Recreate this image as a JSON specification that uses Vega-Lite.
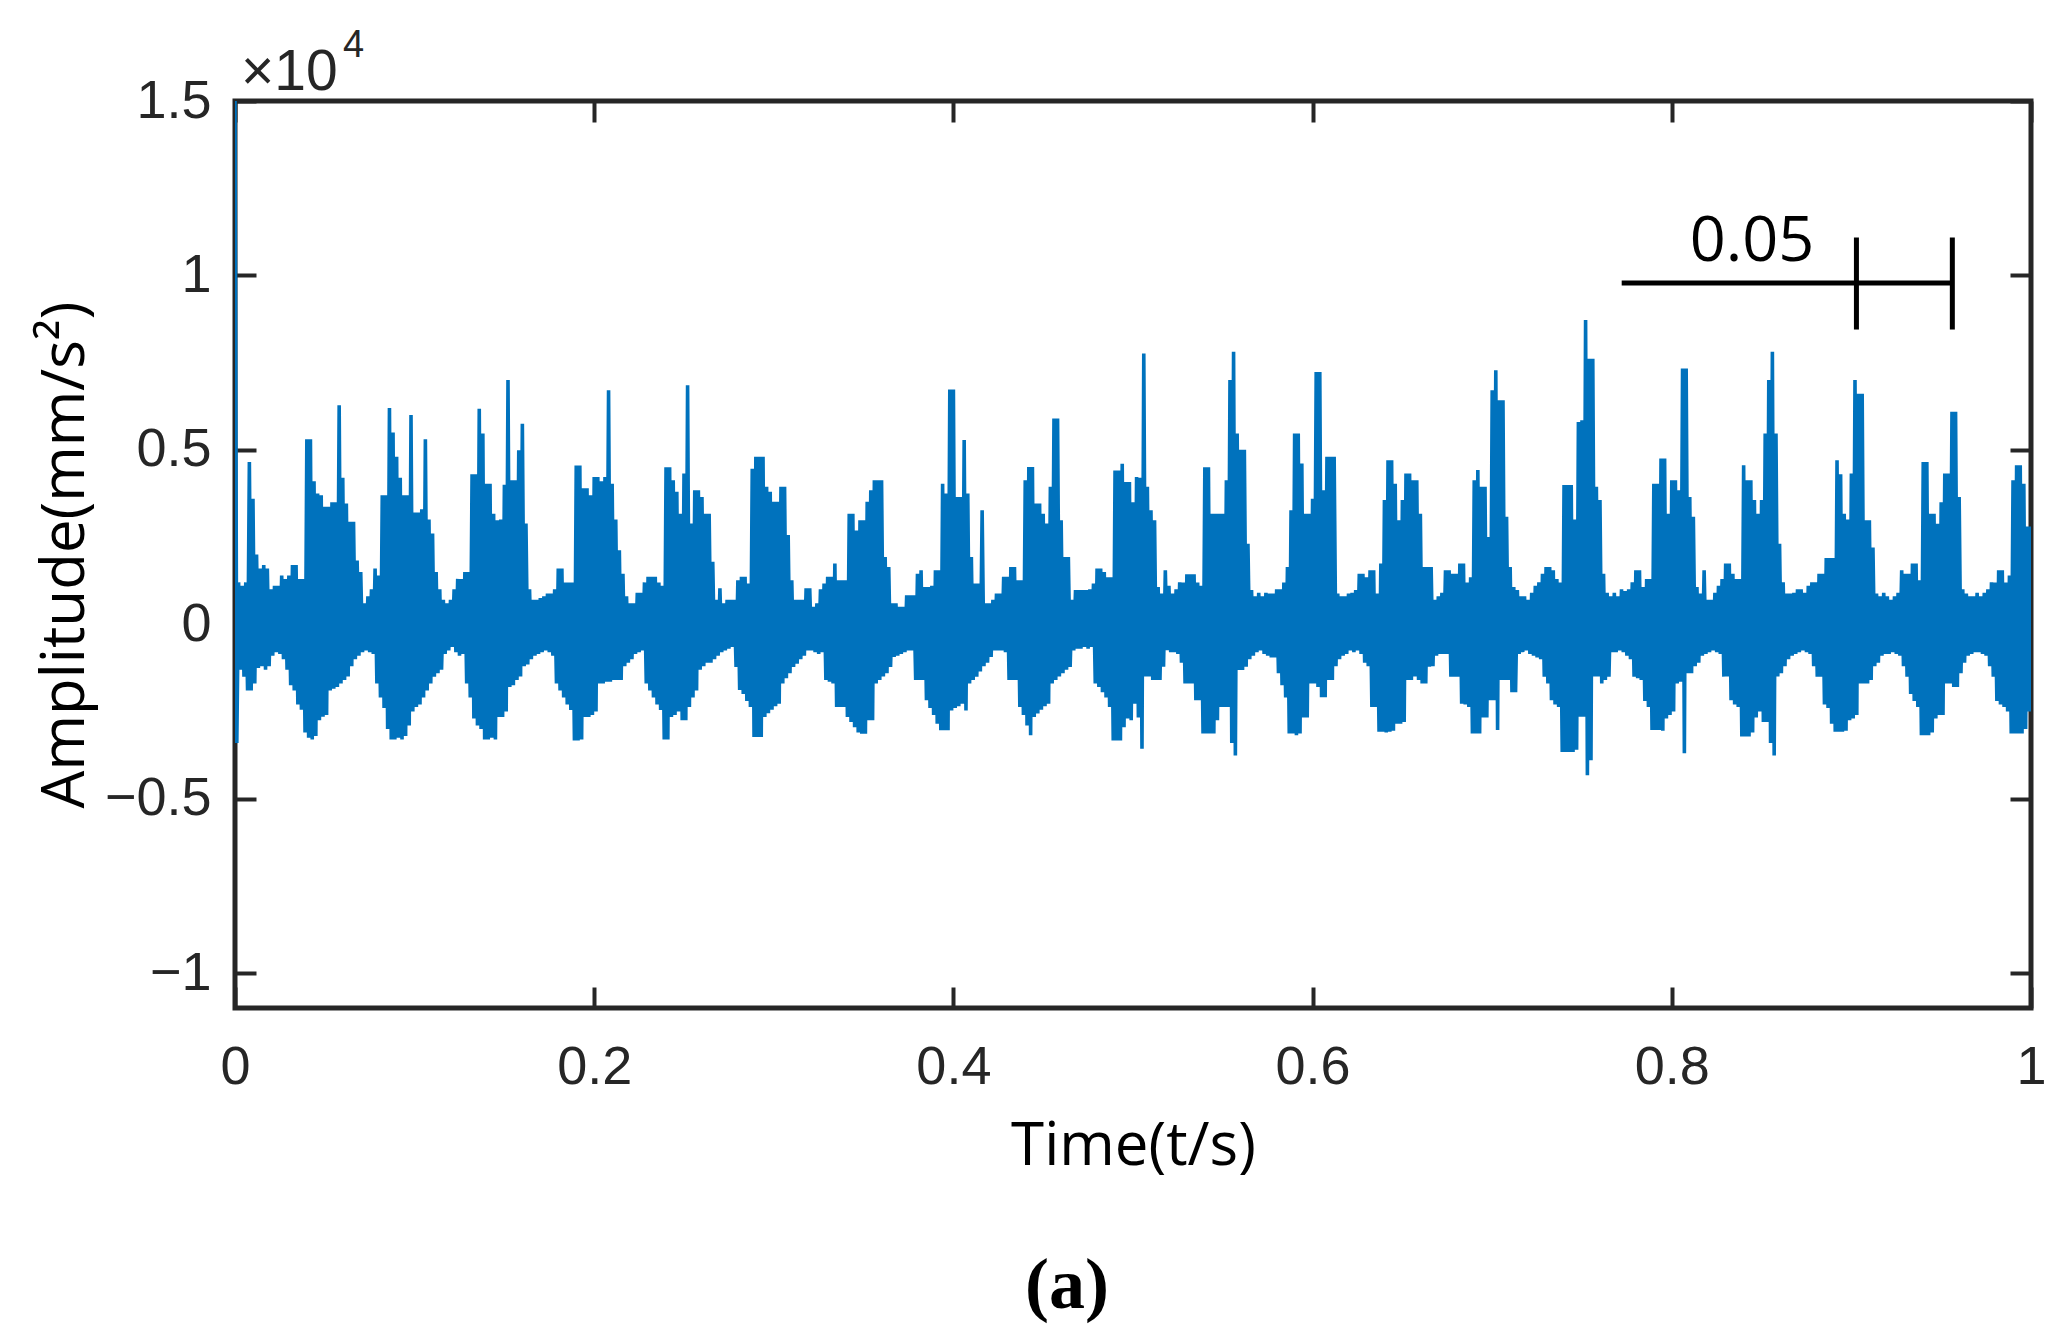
{
  "$schema": "https://vega.github.io/schema/vega-lite/v6.json",
  "description": "Vibration acceleration signal over one second, with a 0.05 s scale bar.",
  "width": 1796,
  "height": 907,
  "autosize": "none",
  "padding": {"left": 235, "top": 101, "right": 39, "bottom": 327},
  "background": "white",
  "config": {"view": {"stroke": "#262626", "strokeWidth": 5}},
  "title": {"text": "(a)", "orient": "bottom", "anchor": "middle", "font": "Liberation Serif", "fontSize": 72, "fontWeight": "bold", "color": "#000000", "offset": 75, "dx": -66},
  "layer": [
    {
      "data": {"values": [
{"t":0,"a":15000},{"t":0.001,"a":-3400},{"t":0.002,"a":1200},{"t":0.003,"a":-1300},{"t":0.004,"a":1100},{"t":0.005,"a":-1500},{"t":0.006,"a":1200},{"t":0.007,"a":-1900},{"t":0.008,"a":4650},{"t":0.009,"a":-1900},
{"t":0.01,"a":3600},{"t":0.011,"a":-1700},{"t":0.012,"a":2000},{"t":0.013,"a":-1250},{"t":0.014,"a":1600},{"t":0.015,"a":-1200},{"t":0.016,"a":1700},{"t":0.017,"a":-1300},{"t":0.018,"a":1600},{"t":0.019,"a":-1200},
{"t":0.02,"a":1000},{"t":0.021,"a":-900},{"t":0.022,"a":1100},{"t":0.023,"a":-800},{"t":0.024,"a":1100},{"t":0.025,"a":-850},{"t":0.026,"a":1400},{"t":0.027,"a":-1000},{"t":0.028,"a":1300},{"t":0.029,"a":-1300},
{"t":0.03,"a":1400},{"t":0.031,"a":-1750},{"t":0.032,"a":1700},{"t":0.033,"a":-1900},{"t":0.034,"a":1700},{"t":0.035,"a":-2300},{"t":0.036,"a":1300},{"t":0.037,"a":-2450},{"t":0.038,"a":1300},{"t":0.039,"a":-3100},
{"t":0.04,"a":5300},{"t":0.041,"a":-3250},{"t":0.042,"a":5300},{"t":0.043,"a":-3300},{"t":0.044,"a":4100},{"t":0.045,"a":-3200},{"t":0.046,"a":3750},{"t":0.047,"a":-2750},{"t":0.048,"a":3700},{"t":0.049,"a":-2650},
{"t":0.05,"a":3370},{"t":0.051,"a":-2600},{"t":0.052,"a":3370},{"t":0.053,"a":-1900},{"t":0.054,"a":3500},{"t":0.055,"a":-1850},{"t":0.056,"a":3500},{"t":0.057,"a":-1800},{"t":0.058,"a":6280},{"t":0.059,"a":-1700},
{"t":0.06,"a":4200},{"t":0.061,"a":-1600},{"t":0.062,"a":3460},{"t":0.063,"a":-1500},{"t":0.064,"a":2940},{"t":0.065,"a":-1200},{"t":0.066,"a":2940},{"t":0.067,"a":-1000},{"t":0.068,"a":1830},{"t":0.069,"a":-900},
{"t":0.07,"a":1500},{"t":0.071,"a":-800},{"t":0.072,"a":600},{"t":0.073,"a":-750},{"t":0.074,"a":800},{"t":0.075,"a":-800},{"t":0.076,"a":1000},{"t":0.077,"a":-850},{"t":0.078,"a":1600},{"t":0.079,"a":-1700},
{"t":0.08,"a":1400},{"t":0.081,"a":-2100},{"t":0.082,"a":3700},{"t":0.083,"a":-2400},{"t":0.084,"a":3700},{"t":0.085,"a":-3000},{"t":0.086,"a":6200},{"t":0.087,"a":-3300},{"t":0.088,"a":5500},{"t":0.089,"a":-3300},
{"t":0.09,"a":4800},{"t":0.091,"a":-3250},{"t":0.092,"a":4200},{"t":0.093,"a":-3300},{"t":0.094,"a":3700},{"t":0.095,"a":-3200},{"t":0.096,"a":3700},{"t":0.097,"a":-2900},{"t":0.098,"a":6000},{"t":0.099,"a":-2500},
{"t":0.1,"a":3200},{"t":0.101,"a":-2370},{"t":0.102,"a":3200},{"t":0.103,"a":-2300},{"t":0.104,"a":3300},{"t":0.105,"a":-2100},{"t":0.106,"a":5300},{"t":0.107,"a":-1900},{"t":0.108,"a":3000},{"t":0.109,"a":-1700},
{"t":0.11,"a":2600},{"t":0.111,"a":-1500},{"t":0.112,"a":1500},{"t":0.113,"a":-1400},{"t":0.114,"a":1000},{"t":0.115,"a":-1300},{"t":0.116,"a":700},{"t":0.117,"a":-850},{"t":0.118,"a":600},{"t":0.119,"a":-750},
{"t":0.12,"a":700},{"t":0.121,"a":-650},{"t":0.122,"a":1000},{"t":0.123,"a":-800},{"t":0.124,"a":1300},{"t":0.125,"a":-900},{"t":0.126,"a":1300},{"t":0.127,"a":-850},{"t":0.128,"a":1500},{"t":0.129,"a":-1700},
{"t":0.13,"a":1500},{"t":0.131,"a":-2100},{"t":0.132,"a":4300},{"t":0.133,"a":-2700},{"t":0.134,"a":4300},{"t":0.135,"a":-2900},{"t":0.136,"a":6180},{"t":0.137,"a":-3000},{"t":0.138,"a":5470},{"t":0.139,"a":-3300},
{"t":0.14,"a":4030},{"t":0.141,"a":-3300},{"t":0.142,"a":4030},{"t":0.143,"a":-3250},{"t":0.144,"a":3170},{"t":0.145,"a":-3300},{"t":0.146,"a":2980},{"t":0.147,"a":-2660},{"t":0.148,"a":3000},{"t":0.149,"a":-2660},
{"t":0.15,"a":4000},{"t":0.151,"a":-2500},{"t":0.152,"a":7000},{"t":0.153,"a":-1800},{"t":0.154,"a":4130},{"t":0.155,"a":-1750},{"t":0.156,"a":4130},{"t":0.157,"a":-1600},{"t":0.158,"a":4990},{"t":0.159,"a":-1500},
{"t":0.16,"a":5750},{"t":0.161,"a":-1200},{"t":0.162,"a":2890},{"t":0.163,"a":-1150},{"t":0.164,"a":1000},{"t":0.165,"a":-1000},{"t":0.166,"a":700},{"t":0.167,"a":-900},{"t":0.168,"a":700},{"t":0.169,"a":-850},
{"t":0.17,"a":750},{"t":0.171,"a":-800},{"t":0.172,"a":800},{"t":0.173,"a":-750},{"t":0.174,"a":880},{"t":0.175,"a":-800},{"t":0.176,"a":880},{"t":0.177,"a":-900},{"t":0.178,"a":1000},{"t":0.179,"a":-1700},
{"t":0.18,"a":1600},{"t":0.181,"a":-1900},{"t":0.182,"a":1600},{"t":0.183,"a":-2100},{"t":0.184,"a":1200},{"t":0.185,"a":-2300},{"t":0.186,"a":1200},{"t":0.187,"a":-2460},{"t":0.188,"a":1200},{"t":0.189,"a":-3330},
{"t":0.19,"a":4550},{"t":0.191,"a":-3330},{"t":0.192,"a":4550},{"t":0.193,"a":-3300},{"t":0.194,"a":3900},{"t":0.195,"a":-2660},{"t":0.196,"a":3900},{"t":0.197,"a":-2660},{"t":0.198,"a":3700},{"t":0.199,"a":-2600},
{"t":0.2,"a":4220},{"t":0.201,"a":-2500},{"t":0.202,"a":4220},{"t":0.203,"a":-1700},{"t":0.204,"a":4100},{"t":0.205,"a":-1700},{"t":0.206,"a":4220},{"t":0.207,"a":-1650},{"t":0.208,"a":6710},{"t":0.209,"a":-1650},
{"t":0.21,"a":4030},{"t":0.211,"a":-1600},{"t":0.212,"a":3000},{"t":0.213,"a":-1600},{"t":0.214,"a":2120},{"t":0.215,"a":-1600},{"t":0.216,"a":1450},{"t":0.217,"a":-1200},{"t":0.218,"a":800},{"t":0.219,"a":-1100},
{"t":0.22,"a":600},{"t":0.221,"a":-1000},{"t":0.222,"a":600},{"t":0.223,"a":-850},{"t":0.224,"a":900},{"t":0.225,"a":-800},{"t":0.226,"a":900},{"t":0.227,"a":-750},{"t":0.228,"a":1200},{"t":0.229,"a":-1700},
{"t":0.23,"a":1360},{"t":0.231,"a":-1900},{"t":0.232,"a":1360},{"t":0.233,"a":-2100},{"t":0.234,"a":1360},{"t":0.235,"a":-2300},{"t":0.236,"a":1200},{"t":0.237,"a":-2460},{"t":0.238,"a":1100},{"t":0.239,"a":-3300},
{"t":0.24,"a":4500},{"t":0.241,"a":-3300},{"t":0.242,"a":4500},{"t":0.243,"a":-2660},{"t":0.244,"a":4130},{"t":0.245,"a":-2600},{"t":0.246,"a":3800},{"t":0.247,"a":-2500},{"t":0.248,"a":3170},{"t":0.249,"a":-2750},
{"t":0.25,"a":4320},{"t":0.251,"a":-2750},{"t":0.252,"a":6850},{"t":0.253,"a":-2370},{"t":0.254,"a":2890},{"t":0.255,"a":-2100},{"t":0.256,"a":3840},{"t":0.257,"a":-1900},{"t":0.258,"a":3840},{"t":0.259,"a":-1300},
{"t":0.26,"a":3650},{"t":0.261,"a":-1200},{"t":0.262,"a":3170},{"t":0.263,"a":-1100},{"t":0.264,"a":3170},{"t":0.265,"a":-1100},{"t":0.266,"a":1790},{"t":0.267,"a":-1000},{"t":0.268,"a":700},{"t":0.269,"a":-900},
{"t":0.27,"a":1030},{"t":0.271,"a":-800},{"t":0.272,"a":600},{"t":0.273,"a":-750},{"t":0.274,"a":700},{"t":0.275,"a":-700},{"t":0.276,"a":700},{"t":0.277,"a":-650},{"t":0.278,"a":700},{"t":0.279,"a":-1220},
{"t":0.28,"a":1260},{"t":0.281,"a":-1880},{"t":0.282,"a":1360},{"t":0.283,"a":-2000},{"t":0.284,"a":1360},{"t":0.285,"a":-2200},{"t":0.286,"a":1170},{"t":0.287,"a":-2370},{"t":0.288,"a":4460},{"t":0.289,"a":-3230},
{"t":0.29,"a":4800},{"t":0.291,"a":-3230},{"t":0.292,"a":4800},{"t":0.293,"a":-3230},{"t":0.294,"a":4800},{"t":0.295,"a":-2660},{"t":0.296,"a":3940},{"t":0.297,"a":-2550},{"t":0.298,"a":3800},{"t":0.299,"a":-2450},
{"t":0.3,"a":3510},{"t":0.301,"a":-2350},{"t":0.302,"a":3510},{"t":0.303,"a":-2280},{"t":0.304,"a":3940},{"t":0.305,"a":-1700},{"t":0.306,"a":3940},{"t":0.307,"a":-1550},{"t":0.308,"a":2560},{"t":0.309,"a":-1400},
{"t":0.31,"a":1260},{"t":0.311,"a":-1220},{"t":0.312,"a":700},{"t":0.313,"a":-1130},{"t":0.314,"a":700},{"t":0.315,"a":-1000},{"t":0.316,"a":700},{"t":0.317,"a":-900},{"t":0.318,"a":1030},{"t":0.319,"a":-750},
{"t":0.32,"a":1030},{"t":0.321,"a":-750},{"t":0.322,"a":500},{"t":0.323,"a":-800},{"t":0.324,"a":600},{"t":0.325,"a":-850},{"t":0.326,"a":1000},{"t":0.327,"a":-800},{"t":0.328,"a":1170},{"t":0.329,"a":-1600},
{"t":0.33,"a":1360},{"t":0.331,"a":-1650},{"t":0.332,"a":1360},{"t":0.333,"a":-1700},{"t":0.334,"a":1740},{"t":0.335,"a":-2370},{"t":0.336,"a":1260},{"t":0.337,"a":-2370},{"t":0.338,"a":1260},{"t":0.339,"a":-2370},
{"t":0.34,"a":1260},{"t":0.341,"a":-2660},{"t":0.342,"a":3170},{"t":0.343,"a":-2800},{"t":0.344,"a":3170},{"t":0.345,"a":-2950},{"t":0.346,"a":2690},{"t":0.347,"a":-3100},{"t":0.348,"a":2980},{"t":0.349,"a":-3140},
{"t":0.35,"a":2980},{"t":0.351,"a":-3140},{"t":0.352,"a":3510},{"t":0.353,"a":-2750},{"t":0.354,"a":3840},{"t":0.355,"a":-2750},{"t":0.356,"a":4130},{"t":0.357,"a":-1700},{"t":0.358,"a":4130},{"t":0.359,"a":-1600},
{"t":0.36,"a":4130},{"t":0.361,"a":-1500},{"t":0.362,"a":1930},{"t":0.363,"a":-1400},{"t":0.364,"a":1640},{"t":0.365,"a":-1220},{"t":0.366,"a":600},{"t":0.367,"a":-940},{"t":0.368,"a":600},{"t":0.369,"a":-900},
{"t":0.37,"a":500},{"t":0.371,"a":-850},{"t":0.372,"a":500},{"t":0.373,"a":-800},{"t":0.374,"a":830},{"t":0.375,"a":-750},{"t":0.376,"a":830},{"t":0.377,"a":-750},{"t":0.378,"a":830},{"t":0.379,"a":-1600},
{"t":0.38,"a":1450},{"t":0.381,"a":-1600},{"t":0.382,"a":1550},{"t":0.383,"a":-1600},{"t":0.384,"a":1070},{"t":0.385,"a":-2180},{"t":0.386,"a":1070},{"t":0.387,"a":-2400},{"t":0.388,"a":1100},{"t":0.389,"a":-2600},
{"t":0.39,"a":1550},{"t":0.391,"a":-2850},{"t":0.392,"a":1550},{"t":0.393,"a":-3040},{"t":0.394,"a":4030},{"t":0.395,"a":-3040},{"t":0.396,"a":3750},{"t":0.397,"a":-3040},{"t":0.398,"a":6730},{"t":0.399,"a":-2470},
{"t":0.4,"a":6730},{"t":0.401,"a":-2400},{"t":0.402,"a":3650},{"t":0.403,"a":-2350},{"t":0.404,"a":3650},{"t":0.405,"a":-2280},{"t":0.406,"a":5280},{"t":0.407,"a":-2470},{"t":0.408,"a":3750},{"t":0.409,"a":-1700},
{"t":0.41,"a":1930},{"t":0.411,"a":-1600},{"t":0.412,"a":1170},{"t":0.413,"a":-1500},{"t":0.414,"a":1170},{"t":0.415,"a":-1350},{"t":0.416,"a":3270},{"t":0.417,"a":-1200},{"t":0.418,"a":600},{"t":0.419,"a":-1100},
{"t":0.42,"a":600},{"t":0.421,"a":-940},{"t":0.422,"a":700},{"t":0.423,"a":-750},{"t":0.424,"a":880},{"t":0.425,"a":-750},{"t":0.426,"a":880},{"t":0.427,"a":-750},{"t":0.428,"a":1360},{"t":0.429,"a":-800},
{"t":0.43,"a":1360},{"t":0.431,"a":-1600},{"t":0.432,"a":1640},{"t":0.433,"a":-1600},{"t":0.434,"a":1640},{"t":0.435,"a":-1600},{"t":0.436,"a":1260},{"t":0.437,"a":-2370},{"t":0.438,"a":1260},{"t":0.439,"a":-2600},
{"t":0.44,"a":4130},{"t":0.441,"a":-2900},{"t":0.442,"a":4510},{"t":0.443,"a":-3180},{"t":0.444,"a":4510},{"t":0.445,"a":-2660},{"t":0.446,"a":3460},{"t":0.447,"a":-2560},{"t":0.448,"a":3460},{"t":0.449,"a":-2450},
{"t":0.45,"a":3170},{"t":0.451,"a":-2350},{"t":0.452,"a":2890},{"t":0.453,"a":-2280},{"t":0.454,"a":3940},{"t":0.455,"a":-1700},{"t":0.456,"a":5900},{"t":0.457,"a":-1600},{"t":0.458,"a":5900},{"t":0.459,"a":-1500},
{"t":0.46,"a":2980},{"t":0.461,"a":-1400},{"t":0.462,"a":1930},{"t":0.463,"a":-1300},{"t":0.464,"a":1930},{"t":0.465,"a":-1220},{"t":0.466,"a":700},{"t":0.467,"a":-750},{"t":0.468,"a":980},{"t":0.469,"a":-700},
{"t":0.47,"a":980},{"t":0.471,"a":-700},{"t":0.472,"a":980},{"t":0.473,"a":-650},{"t":0.474,"a":980},{"t":0.475,"a":-700},{"t":0.476,"a":1000},{"t":0.477,"a":-650},{"t":0.478,"a":1170},{"t":0.479,"a":-1700},
{"t":0.48,"a":1600},{"t":0.481,"a":-1800},{"t":0.482,"a":1600},{"t":0.483,"a":-1950},{"t":0.484,"a":1500},{"t":0.485,"a":-2100},{"t":0.486,"a":1350},{"t":0.487,"a":-2370},{"t":0.488,"a":1350},{"t":0.489,"a":-3330},
{"t":0.49,"a":4410},{"t":0.491,"a":-3330},{"t":0.492,"a":4410},{"t":0.493,"a":-3330},{"t":0.494,"a":4600},{"t":0.495,"a":-2950},{"t":0.496,"a":4080},{"t":0.497,"a":-2700},{"t":0.498,"a":4080},{"t":0.499,"a":-2750},
{"t":0.5,"a":3500},{"t":0.501,"a":-2280},{"t":0.502,"a":4220},{"t":0.503,"a":-2670},{"t":0.504,"a":4200},{"t":0.505,"a":-3570},{"t":0.506,"a":7760},{"t":0.507,"a":-1500},{"t":0.508,"a":3940},{"t":0.509,"a":-1500},
{"t":0.51,"a":3270},{"t":0.511,"a":-1600},{"t":0.512,"a":2980},{"t":0.513,"a":-1600},{"t":0.514,"a":1070},{"t":0.515,"a":-1600},{"t":0.516,"a":880},{"t":0.517,"a":-1220},{"t":0.518,"a":1550},{"t":0.519,"a":-740},
{"t":0.52,"a":1100},{"t":0.521,"a":-800},{"t":0.522,"a":880},{"t":0.523,"a":-800},{"t":0.524,"a":1000},{"t":0.525,"a":-850},{"t":0.526,"a":1200},{"t":0.527,"a":-1100},{"t":0.528,"a":1200},{"t":0.529,"a":-1700},
{"t":0.53,"a":1430},{"t":0.531,"a":-1700},{"t":0.532,"a":1430},{"t":0.533,"a":-1700},{"t":0.534,"a":1430},{"t":0.535,"a":-2180},{"t":0.536,"a":1200},{"t":0.537,"a":-2180},{"t":0.538,"a":1100},{"t":0.539,"a":-3130},
{"t":0.54,"a":4500},{"t":0.541,"a":-3130},{"t":0.542,"a":4500},{"t":0.543,"a":-3130},{"t":0.544,"a":3170},{"t":0.545,"a":-3130},{"t":0.546,"a":3170},{"t":0.547,"a":-2750},{"t":0.548,"a":3170},{"t":0.549,"a":-2370},
{"t":0.55,"a":3170},{"t":0.551,"a":-2370},{"t":0.552,"a":4130},{"t":0.553,"a":-2370},{"t":0.554,"a":7000},{"t":0.555,"a":-3400},{"t":0.556,"a":7810},{"t":0.557,"a":-3760},{"t":0.558,"a":5470},{"t":0.559,"a":-1310},
{"t":0.56,"a":5000},{"t":0.561,"a":-1310},{"t":0.562,"a":5000},{"t":0.563,"a":-1220},{"t":0.564,"a":2310},{"t":0.565,"a":-1000},{"t":0.566,"a":980},{"t":0.567,"a":-900},{"t":0.568,"a":800},{"t":0.569,"a":-800},
{"t":0.57,"a":900},{"t":0.571,"a":-750},{"t":0.572,"a":800},{"t":0.573,"a":-850},{"t":0.574,"a":900},{"t":0.575,"a":-900},{"t":0.576,"a":880},{"t":0.577,"a":-950},{"t":0.578,"a":880},{"t":0.579,"a":-950},
{"t":0.58,"a":1000},{"t":0.581,"a":-1400},{"t":0.582,"a":1000},{"t":0.583,"a":-1750},{"t":0.584,"a":1200},{"t":0.585,"a":-2100},{"t":0.586,"a":1640},{"t":0.587,"a":-3130},{"t":0.588,"a":3270},{"t":0.589,"a":-3130},
{"t":0.59,"a":5470},{"t":0.591,"a":-3180},{"t":0.592,"a":5470},{"t":0.593,"a":-3130},{"t":0.594,"a":4610},{"t":0.595,"a":-2670},{"t":0.596,"a":3170},{"t":0.597,"a":-2670},{"t":0.598,"a":3170},{"t":0.599,"a":-1700},
{"t":0.6,"a":3600},{"t":0.601,"a":-1700},{"t":0.602,"a":7230},{"t":0.603,"a":-1800},{"t":0.604,"a":7230},{"t":0.605,"a":-2090},{"t":0.606,"a":3840},{"t":0.607,"a":-2090},{"t":0.608,"a":4800},{"t":0.609,"a":-1600},
{"t":0.61,"a":4800},{"t":0.611,"a":-1600},{"t":0.612,"a":4800},{"t":0.613,"a":-1200},{"t":0.614,"a":880},{"t":0.615,"a":-1000},{"t":0.616,"a":800},{"t":0.617,"a":-900},{"t":0.618,"a":800},{"t":0.619,"a":-850},
{"t":0.62,"a":880},{"t":0.621,"a":-750},{"t":0.622,"a":900},{"t":0.623,"a":-800},{"t":0.624,"a":980},{"t":0.625,"a":-750},{"t":0.626,"a":1450},{"t":0.627,"a":-850},{"t":0.628,"a":1450},{"t":0.629,"a":-1100},
{"t":0.63,"a":1350},{"t":0.631,"a":-1200},{"t":0.632,"a":1550},{"t":0.633,"a":-2370},{"t":0.634,"a":1550},{"t":0.635,"a":-2370},{"t":0.636,"a":880},{"t":0.637,"a":-3080},{"t":0.638,"a":1740},{"t":0.639,"a":-3080},
{"t":0.64,"a":3560},{"t":0.641,"a":-3100},{"t":0.642,"a":4700},{"t":0.643,"a":-3080},{"t":0.644,"a":4700},{"t":0.645,"a":-3050},{"t":0.646,"a":4030},{"t":0.647,"a":-2850},{"t":0.648,"a":2980},{"t":0.649,"a":-2850},
{"t":0.65,"a":3560},{"t":0.651,"a":-2800},{"t":0.652,"a":4320},{"t":0.653,"a":-1600},{"t":0.654,"a":4320},{"t":0.655,"a":-1600},{"t":0.656,"a":4130},{"t":0.657,"a":-1500},{"t":0.658,"a":4130},{"t":0.659,"a":-1600},
{"t":0.66,"a":3170},{"t":0.661,"a":-1700},{"t":0.662,"a":1640},{"t":0.663,"a":-1700},{"t":0.664,"a":1640},{"t":0.665,"a":-1220},{"t":0.666,"a":1640},{"t":0.667,"a":-1200},{"t":0.668,"a":700},{"t":0.669,"a":-900},
{"t":0.67,"a":800},{"t":0.671,"a":-850},{"t":0.672,"a":900},{"t":0.673,"a":-850},{"t":0.674,"a":1550},{"t":0.675,"a":-850},{"t":0.676,"a":1550},{"t":0.677,"a":-1500},{"t":0.678,"a":1450},{"t":0.679,"a":-1500},
{"t":0.68,"a":1450},{"t":0.681,"a":-1500},{"t":0.682,"a":1740},{"t":0.683,"a":-2280},{"t":0.684,"a":1740},{"t":0.685,"a":-2300},{"t":0.686,"a":1200},{"t":0.687,"a":-2370},{"t":0.688,"a":1350},{"t":0.689,"a":-3130},
{"t":0.69,"a":4130},{"t":0.691,"a":-3130},{"t":0.692,"a":4420},{"t":0.693,"a":-3130},{"t":0.694,"a":3940},{"t":0.695,"a":-2670},{"t":0.696,"a":3940},{"t":0.697,"a":-2670},{"t":0.698,"a":2500},{"t":0.699,"a":-2180},
{"t":0.7,"a":6710},{"t":0.701,"a":-2180},{"t":0.702,"a":7280},{"t":0.703,"a":-3030},{"t":0.704,"a":6420},{"t":0.705,"a":-1600},{"t":0.706,"a":6420},{"t":0.707,"a":-1600},{"t":0.708,"a":3080},{"t":0.709,"a":-1600},
{"t":0.71,"a":1640},{"t":0.711,"a":-1950},{"t":0.712,"a":1070},{"t":0.713,"a":-1950},{"t":0.714,"a":980},{"t":0.715,"a":-850},{"t":0.716,"a":800},{"t":0.717,"a":-800},{"t":0.718,"a":800},{"t":0.719,"a":-750},
{"t":0.72,"a":700},{"t":0.721,"a":-850},{"t":0.722,"a":900},{"t":0.723,"a":-900},{"t":0.724,"a":1100},{"t":0.725,"a":-950},{"t":0.726,"a":1200},{"t":0.727,"a":-1000},{"t":0.728,"a":1450},{"t":0.729,"a":-1500},
{"t":0.73,"a":1640},{"t":0.731,"a":-1700},{"t":0.732,"a":1640},{"t":0.733,"a":-2180},{"t":0.734,"a":1550},{"t":0.735,"a":-2300},{"t":0.736,"a":1300},{"t":0.737,"a":-2370},{"t":0.738,"a":1200},{"t":0.739,"a":-3660},
{"t":0.74,"a":3990},{"t":0.741,"a":-3660},{"t":0.742,"a":3990},{"t":0.743,"a":-3660},{"t":0.744,"a":3990},{"t":0.745,"a":-3660},{"t":0.746,"a":3000},{"t":0.747,"a":-3600},{"t":0.748,"a":5800},{"t":0.749,"a":-2650},
{"t":0.75,"a":5850},{"t":0.751,"a":-2650},{"t":0.752,"a":8720},{"t":0.753,"a":-4330},{"t":0.754,"a":7610},{"t":0.755,"a":-3900},{"t":0.756,"a":7610},{"t":0.757,"a":-1500},{"t":0.758,"a":3940},{"t":0.759,"a":-1500},
{"t":0.76,"a":3560},{"t":0.761,"a":-1700},{"t":0.762,"a":1450},{"t":0.763,"a":-1600},{"t":0.764,"a":900},{"t":0.765,"a":-1500},{"t":0.766,"a":800},{"t":0.767,"a":-800},{"t":0.768,"a":900},{"t":0.769,"a":-800},
{"t":0.77,"a":800},{"t":0.771,"a":-750},{"t":0.772,"a":1000},{"t":0.773,"a":-800},{"t":0.774,"a":950},{"t":0.775,"a":-900},{"t":0.776,"a":1000},{"t":0.777,"a":-1000},{"t":0.778,"a":1200},{"t":0.779,"a":-1500},
{"t":0.78,"a":1550},{"t":0.781,"a":-1550},{"t":0.782,"a":1550},{"t":0.783,"a":-1600},{"t":0.784,"a":1070},{"t":0.785,"a":-2200},{"t":0.786,"a":1300},{"t":0.787,"a":-2370},{"t":0.788,"a":1300},{"t":0.789,"a":-3030},
{"t":0.79,"a":4030},{"t":0.791,"a":-3030},{"t":0.792,"a":4030},{"t":0.793,"a":-3030},{"t":0.794,"a":4750},{"t":0.795,"a":-3050},{"t":0.796,"a":4750},{"t":0.797,"a":-2700},{"t":0.798,"a":3170},{"t":0.799,"a":-2600},
{"t":0.8,"a":4130},{"t":0.801,"a":-2500},{"t":0.802,"a":4130},{"t":0.803,"a":-1700},{"t":0.804,"a":3840},{"t":0.805,"a":-1650},{"t":0.806,"a":7330},{"t":0.807,"a":-3700},{"t":0.808,"a":7330},{"t":0.809,"a":-1400},
{"t":0.81,"a":3650},{"t":0.811,"a":-1400},{"t":0.812,"a":3080},{"t":0.813,"a":-1200},{"t":0.814,"a":1070},{"t":0.815,"a":-1100},{"t":0.816,"a":880},{"t":0.817,"a":-900},{"t":0.818,"a":1550},{"t":0.819,"a":-850},
{"t":0.82,"a":700},{"t":0.821,"a":-800},{"t":0.822,"a":700},{"t":0.823,"a":-750},{"t":0.824,"a":900},{"t":0.825,"a":-800},{"t":0.826,"a":1100},{"t":0.827,"a":-850},{"t":0.828,"a":1300},{"t":0.829,"a":-1500},
{"t":0.83,"a":1740},{"t":0.831,"a":-1500},{"t":0.832,"a":1740},{"t":0.833,"a":-2180},{"t":0.834,"a":1450},{"t":0.835,"a":-2300},{"t":0.836,"a":1300},{"t":0.837,"a":-2370},{"t":0.838,"a":1300},{"t":0.839,"a":-3220},
{"t":0.84,"a":4560},{"t":0.841,"a":-3220},{"t":0.842,"a":4130},{"t":0.843,"a":-3220},{"t":0.844,"a":4130},{"t":0.845,"a":-3100},{"t":0.846,"a":3560},{"t":0.847,"a":-2670},{"t":0.848,"a":3170},{"t":0.849,"a":-2500},
{"t":0.85,"a":3560},{"t":0.851,"a":-2800},{"t":0.852,"a":5470},{"t":0.853,"a":-2800},{"t":0.854,"a":7000},{"t":0.855,"a":-3400},{"t":0.856,"a":7810},{"t":0.857,"a":-3760},{"t":0.858,"a":5470},{"t":0.859,"a":-1500},
{"t":0.86,"a":2310},{"t":0.861,"a":-1400},{"t":0.862,"a":1200},{"t":0.863,"a":-1200},{"t":0.864,"a":880},{"t":0.865,"a":-1000},{"t":0.866,"a":880},{"t":0.867,"a":-900},{"t":0.868,"a":900},{"t":0.869,"a":-850},
{"t":0.87,"a":1000},{"t":0.871,"a":-800},{"t":0.872,"a":1000},{"t":0.873,"a":-750},{"t":0.874,"a":900},{"t":0.875,"a":-800},{"t":0.876,"a":1100},{"t":0.877,"a":-850},{"t":0.878,"a":1200},{"t":0.879,"a":-1200},
{"t":0.88,"a":1200},{"t":0.881,"a":-1500},{"t":0.882,"a":1450},{"t":0.883,"a":-1500},{"t":0.884,"a":1450},{"t":0.885,"a":-2300},{"t":0.886,"a":1900},{"t":0.887,"a":-2400},{"t":0.888,"a":1900},{"t":0.889,"a":-2850},
{"t":0.89,"a":1900},{"t":0.891,"a":-3080},{"t":0.892,"a":4700},{"t":0.893,"a":-3080},{"t":0.894,"a":4300},{"t":0.895,"a":-3080},{"t":0.896,"a":3170},{"t":0.897,"a":-3050},{"t":0.898,"a":3000},{"t":0.899,"a":-2750},
{"t":0.9,"a":4320},{"t":0.901,"a":-2700},{"t":0.902,"a":7000},{"t":0.903,"a":-2600},{"t":0.904,"a":6610},{"t":0.905,"a":-1700},{"t":0.906,"a":6610},{"t":0.907,"a":-1700},{"t":0.908,"a":2980},{"t":0.909,"a":-1700},
{"t":0.91,"a":2980},{"t":0.911,"a":-1600},{"t":0.912,"a":2200},{"t":0.913,"a":-1200},{"t":0.914,"a":880},{"t":0.915,"a":-1100},{"t":0.916,"a":800},{"t":0.917,"a":-900},{"t":0.918,"a":900},{"t":0.919,"a":-850},
{"t":0.92,"a":800},{"t":0.921,"a":-850},{"t":0.922,"a":700},{"t":0.923,"a":-800},{"t":0.924,"a":800},{"t":0.925,"a":-850},{"t":0.926,"a":900},{"t":0.927,"a":-900},{"t":0.928,"a":1550},{"t":0.929,"a":-1200},
{"t":0.93,"a":1450},{"t":0.931,"a":-1500},{"t":0.932,"a":1450},{"t":0.933,"a":-2000},{"t":0.934,"a":1740},{"t":0.935,"a":-2200},{"t":0.936,"a":1740},{"t":0.937,"a":-2370},{"t":0.938,"a":1260},{"t":0.939,"a":-3180},
{"t":0.94,"a":4650},{"t":0.941,"a":-3180},{"t":0.942,"a":4650},{"t":0.943,"a":-3180},{"t":0.944,"a":3170},{"t":0.945,"a":-3100},{"t":0.946,"a":3170},{"t":0.947,"a":-2700},{"t":0.948,"a":2880},{"t":0.949,"a":-2600},
{"t":0.95,"a":3500},{"t":0.951,"a":-2600},{"t":0.952,"a":4320},{"t":0.953,"a":-1700},{"t":0.954,"a":4320},{"t":0.955,"a":-1700},{"t":0.956,"a":6090},{"t":0.957,"a":-1800},{"t":0.958,"a":6090},{"t":0.959,"a":-1800},
{"t":0.96,"a":3650},{"t":0.961,"a":-1400},{"t":0.962,"a":1000},{"t":0.963,"a":-1100},{"t":0.964,"a":880},{"t":0.965,"a":-900},{"t":0.966,"a":800},{"t":0.967,"a":-850},{"t":0.968,"a":800},{"t":0.969,"a":-800},
{"t":0.97,"a":900},{"t":0.971,"a":-800},{"t":0.972,"a":800},{"t":0.973,"a":-850},{"t":0.974,"a":900},{"t":0.975,"a":-900},{"t":0.976,"a":1000},{"t":0.977,"a":-1200},{"t":0.978,"a":1200},{"t":0.979,"a":-1500},
{"t":0.98,"a":1200},{"t":0.981,"a":-2200},{"t":0.982,"a":1550},{"t":0.983,"a":-2300},{"t":0.984,"a":1550},{"t":0.985,"a":-2370},{"t":0.986,"a":1200},{"t":0.987,"a":-2500},{"t":0.988,"a":1400},{"t":0.989,"a":-3130},
{"t":0.99,"a":4130},{"t":0.991,"a":-3130},{"t":0.992,"a":4560},{"t":0.993,"a":-3130},{"t":0.994,"a":4560},{"t":0.995,"a":-3130},{"t":0.996,"a":4030},{"t":0.997,"a":-3000},{"t":0.998,"a":2800},{"t":0.999,"a":-2500},
{"t":1,"a":2800}
      ]},
      "mark": {"type": "line", "color": "#0072BD", "strokeWidth": 3.6, "strokeJoin": "bevel", "clip": true},
      "encoding": {
        "x": {
          "field": "t", "type": "quantitative",
          "scale": {"domain": [0, 1], "nice": false, "zero": false},
          "axis": {
            "orient": "bottom", "values": [0, 0.2, 0.4, 0.6, 0.8, 1], "format": "~g",
            "title": "Time(t/s)", "grid": false, "domain": false,
            "tickSize": -21, "tickWidth": 4, "tickColor": "#262626",
            "labelFont": "Liberation Sans", "labelFontSize": 54, "labelColor": "#262626",
            "labelPadding": 53, "labelFlush": false, "labelOverlap": false,
            "titleFont": "Open Sans", "titleFontSize": 60, "titleFontWeight": "normal",
            "titleColor": "#000000", "titlePadding": 23
          }
        },
        "y": {
          "field": "a", "type": "quantitative",
          "scale": {"domain": [-11000, 15000], "nice": false, "zero": false},
          "axis": {
            "orient": "left", "values": [-10000, -5000, 0, 5000, 10000, 15000],
            "labelExpr": "format(datum.value / 10000, '~g')",
            "title": "Amplitude(mm/s²)", "grid": false, "domain": false,
            "tickSize": -21, "tickWidth": 4, "tickColor": "#262626",
            "labelFont": "Liberation Sans", "labelFontSize": 54, "labelColor": "#262626",
            "labelPadding": 45, "labelFlush": false, "labelOverlap": false,
            "titleFont": "Open Sans", "titleFontSize": 60, "titleFontWeight": "normal",
            "titleColor": "#000000", "titlePadding": 8
          }
        }
      }
    },
    {
      "data": {"values": [
        {"x": 0.7721, "x2": 0.9567, "y": 9785, "y2": 9785},
        {"x": 0.9028, "x2": 0.9028, "y": 8449, "y2": 11087},
        {"x": 0.9562, "x2": 0.9562, "y": 8449, "y2": 11087}
      ]},
      "mark": {"type": "rule", "color": "#000000", "strokeWidth": 5},
      "encoding": {
        "x": {
          "field": "x", "type": "quantitative",
          "scale": {"domain": [0, 1], "nice": false, "zero": false},
          "axis": {
            "orient": "top", "values": [0, 0.2, 0.4, 0.6, 0.8, 1], "labels": false,
            "title": null, "grid": false, "domain": false,
            "tickSize": -21, "tickWidth": 4, "tickColor": "#262626"
          }
        },
        "x2": {"field": "x2"},
        "y": {
          "field": "y", "type": "quantitative",
          "scale": {"domain": [-11000, 15000], "nice": false, "zero": false},
          "axis": {
            "orient": "right", "values": [-10000, -5000, 0, 5000, 10000, 15000], "labels": false,
            "title": null, "grid": false, "domain": false,
            "tickSize": -21, "tickWidth": 4, "tickColor": "#262626"
          }
        },
        "y2": {"field": "y2"}
      }
    },
    {
      "data": {"values": [{"x": 0.8447, "y": 10407, "label": "0.05"}]},
      "mark": {"type": "text", "font": "Open Sans", "fontSize": 63, "align": "center", "baseline": "alphabetic", "color": "#000000"},
      "encoding": {
        "x": {"field": "x", "type": "quantitative", "scale": {"domain": [0, 1], "nice": false, "zero": false}, "axis": null},
        "y": {"field": "y", "type": "quantitative", "scale": {"domain": [-11000, 15000], "nice": false, "zero": false}, "axis": null},
        "text": {"field": "label"}
      }
    },
    {
      "data": {"values": [{"x": 0, "y": 15000, "label": "×10"}]},
      "mark": {"type": "text", "font": "Liberation Sans", "fontSize": 57, "align": "left", "baseline": "alphabetic", "dx": 6, "dy": -11, "color": "#262626"},
      "encoding": {
        "x": {"field": "x", "type": "quantitative", "scale": {"domain": [0, 1], "nice": false, "zero": false}, "axis": null},
        "y": {"field": "y", "type": "quantitative", "scale": {"domain": [-11000, 15000], "nice": false, "zero": false}, "axis": null},
        "text": {"field": "label"}
      }
    },
    {
      "data": {"values": [{"x": 0, "y": 15000, "label": "4"}]},
      "mark": {"type": "text", "font": "Liberation Sans", "fontSize": 38, "align": "left", "baseline": "alphabetic", "dx": 108, "dy": -44, "color": "#262626"},
      "encoding": {
        "x": {"field": "x", "type": "quantitative", "scale": {"domain": [0, 1], "nice": false, "zero": false}, "axis": null},
        "y": {"field": "y", "type": "quantitative", "scale": {"domain": [-11000, 15000], "nice": false, "zero": false}, "axis": null},
        "text": {"field": "label"}
      }
    }
  ],
  "resolve": {"axis": {"x": "independent", "y": "independent"}}
}
